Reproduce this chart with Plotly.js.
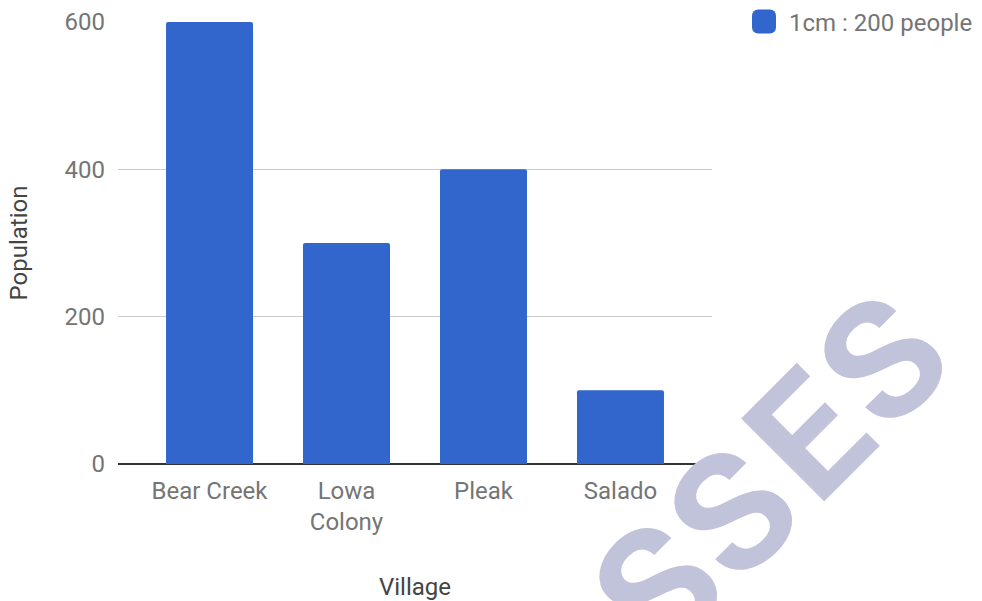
<!DOCTYPE html>
<html>
<head>
<meta charset="utf-8">
<script src="https://cdn.plot.ly/plotly-3.0.1.min.js"></script>
<style>
html,body{margin:0;padding:0;background:#fff;}
#chart{width:982px;height:601px;}
.legendpoints path{transform:translate(20px,0) scale(2);}
</style>
</head>
<body>
<div id="chart"></div>
<script>
var villages = ["Bear Creek", "Lowa<br>Colony", "Pleak", "Salado"];
var population = [600, 300, 400, 100];
var seriesName = "1cm : 200 people";
var yTicks = [0, 200, 400, 600];
var watermarkLetters = ["S", "S", "E", "S"];

var L = 118, T = 22, W = 594, H = 442;
function px(x) { return (x - L) / W; }
function py(y) { return (T + H - y) / H; }

var centers = [[658, 588], [733, 513], [809, 436], [883, 361]];
var annotations = watermarkLetters.map(function (ch, i) {
  return {
    text: ch, xref: "paper", yref: "paper",
    x: px(centers[i][0]), y: py(centers[i][1]),
    xanchor: "center", yanchor: "middle",
    showarrow: false, textangle: -45,
    font: { family: "Roboto", size: 165, color: "#c0c3da", weight: 700 }
  };
});

var trace = {
  type: "bar",
  x: villages,
  y: population,
  name: seriesName,
  marker: { color: "#3366cc", cornerradius: 2 },
  showlegend: true
};

var layout = {
  width: 982, height: 601,
  margin: { l: L, r: 982 - L - W, t: T, b: 601 - T - H, pad: 0, autoexpand: false },
  paper_bgcolor: "#fff", plot_bgcolor: "#fff",
  font: { family: "Roboto", size: 24, color: "#757575" },
  bargap: 0.365,
  xaxis: {
    type: "category",
    range: [-0.668, 3.668],
    showgrid: false, showline: false, zeroline: false,
    ticks: "", ticklabelstandoff: 10,
    tickfont: { size: 24, color: "#757575" },
    title: { text: "Village", font: { size: 24, color: "#444" }, standoff: 42 },
    fixedrange: true
  },
  yaxis: {
    range: [0, 600],
    tickvals: yTicks,
    ticktext: yTicks.map(String),
    showgrid: true, gridcolor: "#cccccc", gridwidth: 1,
    zeroline: true, zerolinecolor: "#333333", zerolinewidth: 2,
    showline: false, ticks: "",
    ticklabelstandoff: 12,
    tickfont: { size: 24, color: "#757575" },
    title: { text: "Population", font: { size: 24, color: "#444" }, standoff: 30 },
    fixedrange: true
  },
  legend: {
    x: px(744), y: py(22), xanchor: "left", yanchor: "middle",
    itemwidth: 35,
    font: { size: 24, color: "#757575" },
    bgcolor: "rgba(0,0,0,0)"
  },
  annotations: annotations
};

Plotly.newPlot("chart", [trace], layout, { displayModeBar: false, staticPlot: true });
</script>
</body>
</html>
